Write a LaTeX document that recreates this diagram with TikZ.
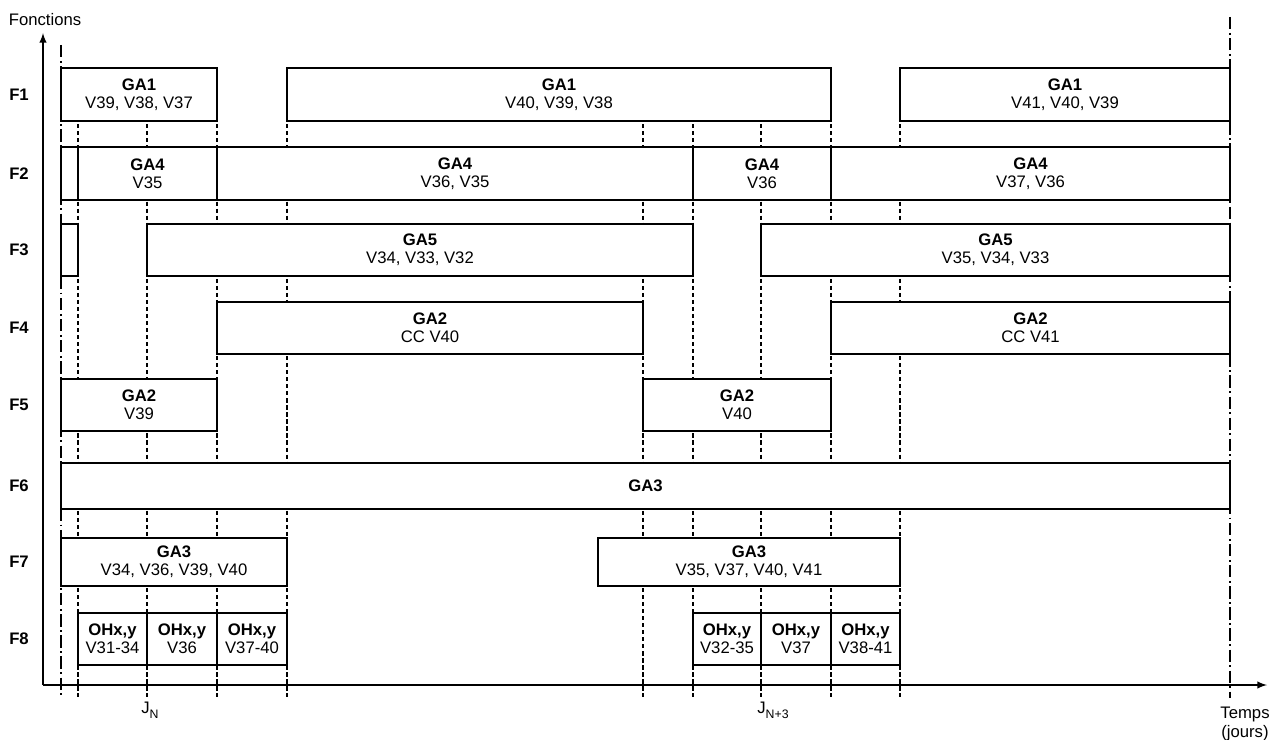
\documentclass[tikz,border=0pt]{standalone}
\usepackage{fontspec}
\setmainfont{Liberation Sans}
\usetikzlibrary{arrows}

\tikzset{
  texte/.style={font=\fontsize{9.5}{10.5}\selectfont},
  tache/.style={texte,draw,fill=white,line width=0.9pt,inner sep=0pt,outer sep=0pt,align=center},
  jalon/.style={line width=0.6pt,dash pattern=on 2.4pt off 1.6pt},
  borne/.style={line width=0.8pt,dash pattern=on 7pt off 2pt on 1pt off 2pt},
  axe/.style={line width=0.9pt,-latex}
}

\begin{document}
\begin{tikzpicture}[x=0.02cm,y=-0.02cm]
\useasboundingbox (0,0) rectangle (1272,740);

% axes
\coordinate (origine) at (43,685);
\coordinate (haut) at (43,33);
\coordinate (droite) at (1267,685);
\draw[axe] (origine) -- (haut);
\draw[axe] (origine) -- (droite);
\node[texte,anchor=base] (fonctions) at (45,26) {Fonctions};
\node[texte,align=center] (temps) at (1245,724) {Temps\\(jours)};

% jalons
\foreach \x in {78,147,217,287,643,693,761,831,900}{
\draw[jalon] (\x,68) -- (\x,697);
}
\draw[borne] (61,45) -- (61,698);
\draw[borne] (1230,17) -- (1230,698);
\node[texte] (jn) at (150,710) {J\raisebox{-0.55ex}{\fontsize{7}{7}\selectfont N}};
\node[texte] (jn3) at (773,710) {J\raisebox{-0.55ex}{\fontsize{7}{7}\selectfont N+3}};

% fonctions
\foreach \r in {1,...,8}{
\pgfmathsetmacro\ya{{68,147,224,302,379,463,538,613}[\r-1]}
\pgfmathsetmacro\yb{{121,200,276,354,431,509,586,665}[\r-1]}
\node[texte,font=\fontsize{9.5}{10.5}\selectfont\bfseries] (f\r) at (19,{(\ya+\yb)/2}) {F\r};
}

% taches
\foreach \xa/\xb/\r/\nom/\ver in {
61/217/1/GA1/{V39, V38, V37}, 287/831/1/GA1/{V40, V39, V38}, 900/1230/1/GA1/{V41, V40, V39},
61/78/2//, 78/217/2/GA4/V35, 217/693/2/GA4/{V36, V35}, 693/831/2/GA4/V36, 831/1230/2/GA4/{V37, V36},
61/78/3//, 147/693/3/GA5/{V34, V33, V32}, 761/1230/3/GA5/{V35, V34, V33},
217/643/4/GA2/CC V40, 831/1230/4/GA2/CC V41,
61/217/5/GA2/V39, 643/831/5/GA2/V40,
61/287/7/GA3/{V34, V36, V39, V40}, 598/900/7/GA3/{V35, V37, V40, V41},
78/147/8/{OHx,y}/V31-34, 147/217/8/{OHx,y}/V36, 217/287/8/{OHx,y}/V37-40,
693/761/8/{OHx,y}/V32-35, 761/831/8/{OHx,y}/V37, 831/900/8/{OHx,y}/V38-41}{
\pgfmathsetmacro\ya{{68,147,224,302,379,463,538,613}[\r-1]}
\pgfmathsetmacro\yb{{121,200,276,354,431,509,586,665}[\r-1]}
\node[tache,minimum width={(\xb-\xa)*0.02cm},minimum height={(\yb-\ya)*0.02cm}]
  (t\r-\xa) at ({(\xa+\xb)/2},{(\ya+\yb)/2}) {\textbf{\nom}\\\ver};
}
\node[tache,minimum width={1169*0.02cm},minimum height={46*0.02cm}] (t6-61) at (645.5,486) {\textbf{GA3}};
\end{tikzpicture}
\end{document}
